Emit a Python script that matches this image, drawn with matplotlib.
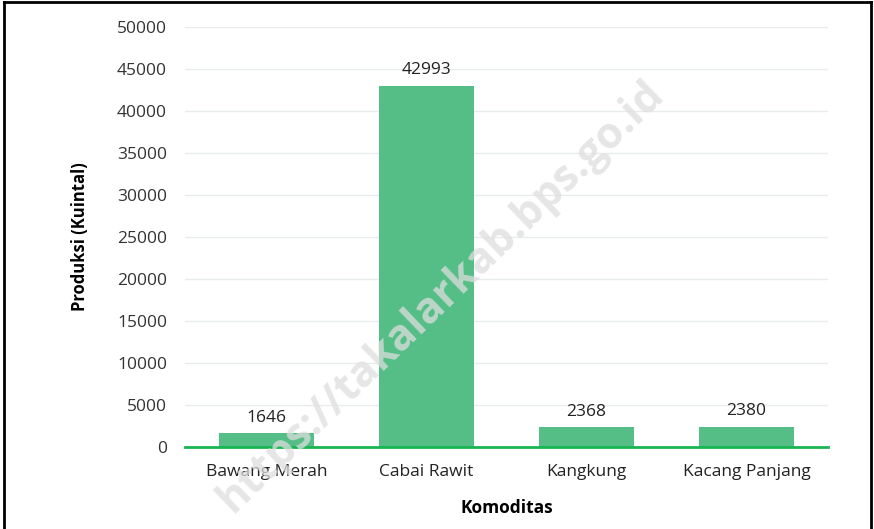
import matplotlib
matplotlib.use("Agg")
import matplotlib.pyplot as plt
from matplotlib.lines import Line2D

categories = ["Bawang Merah", "Cabai Rawit", "Kangkung", "Kacang Panjang"]
produksi = [1646, 42993, 2368, 2380]
yticks = list(range(0, 50001, 5000))

plt.rcParams["font.family"] = ["Open Sans", "DejaVu Sans"]

fig = plt.figure(figsize=(8.74, 5.29), dpi=100)
ax = fig.add_axes([185 / 874, 1 - 447 / 529, (828 - 185) / 874, (447 - 27) / 529])

bar_color = "#55be86"
x = range(len(categories))
bars = ax.bar(x, produksi, width=0.59, color=bar_color, zorder=3)
for b, v in zip(bars, produksi):
    ax.text(b.get_x() + b.get_width() / 2, v + 900, str(v), ha="center", va="bottom",
            fontsize=12.5, color="#222222", zorder=4)

ax.set_xlim(-0.51, 3.51)
ax.set_ylim(0, 50000)
ax.set_yticks(yticks)
ax.set_yticklabels([str(t) for t in yticks], fontsize=12.5, color="#333333")
ax.set_xticks(list(x))
ax.set_xticklabels(categories, fontsize=12.5, color="#222222")
ax.tick_params(axis="y", length=0, pad=13)
ax.tick_params(axis="x", length=0, pad=12)
ax.grid(axis="y", color="#e8ecef", linewidth=1, zorder=0)
for s in ["top", "right", "left"]:
    ax.spines[s].set_visible(False)
ax.spines["bottom"].set_color("#19b553")
ax.spines["bottom"].set_linewidth(2)
ax.spines["bottom"].set_zorder(5)

ax.set_xlabel("Komoditas", fontsize=12.5, fontweight="bold", labelpad=14)
ax.set_ylabel("Produksi (Kuintal)", fontsize=12, fontweight="bold", labelpad=20)

# watermark
fig.text(0.505, 0.44, "https://takalarkab.bps.go.id", rotation=44, fontsize=31,
         fontweight="bold", color="#dedede", alpha=0.75, ha="center", va="center", zorder=10)

# frame around picture (no bottom)
for xs, ys in [([0.005, 0.005], [0, 0.996]), ([0.005, 0.997], [0.996, 0.996]),
               ([0.997, 0.997], [0, 0.996])]:
    fig.add_artist(Line2D(xs, ys, color="black", linewidth=2, transform=fig.transFigure))

fig.savefig("out.png", dpi=100)
